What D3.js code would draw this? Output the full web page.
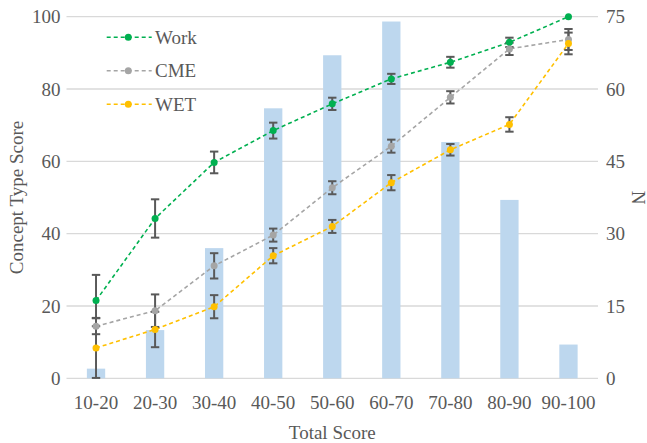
<!DOCTYPE html>
<html>
<head>
<meta charset="utf-8">
<script src="https://cdn.jsdelivr.net/npm/d3@7"></script>
<style>
  body { margin: 0; background: #fff; }
</style>
</head>
<body>
<svg width="647" height="443"></svg>
<script>
var categories = ["10-20", "20-30", "30-40", "40-50", "50-60", "60-70", "70-80", "80-90", "90-100"]
var nCounts = [2, 10, 27, 56, 67, 74, 49, 37, 7]

var workScore = [21.5, 44.2, 59.7, 68.5, 75.9, 82.8, 87.4, 92.9, 100]
var workErr = [7.1, 5.3, 3.0, 2.2, 1.7, 1.4, 1.5, 1.3, 0]
var cmeScore = [14.4, 18.7, 31.1, 39.6, 52.7, 64.2, 77.7, 91.1, 93.7]
var cmeErr = [2.2, 4.5, 3.5, 1.8, 1.8, 1.8, 1.7, 1.7, 2.9]
var wetScore = [8.4, 13.5, 19.8, 33.9, 42.0, 54.1, 63.2, 70.2, 92.6]
var wetErr = [8.3, 4.9, 3.2, 2.1, 1.8, 2.1, 1.6, 2.0, 3.0]

var leftTicks = [0, 20, 40, 60, 80, 100]
var rightTicks = [0, 15, 30, 45, 60, 75]

var series = [
  {name: "Work", values: workScore, err: workErr, color: "#00b050"},
  {name: "CME", values: cmeScore, err: cmeErr, color: "#a5a5a5"},
  {name: "WET", values: wetScore, err: wetErr, color: "#ffc000"}
]

var FONT = "'Liberation Serif', 'Times New Roman', serif"
var margins = {top: 16.7, left: 66.5, right: 49, bottom: 64.7}
var width = 647, height = 443

var svg = d3.select("svg")

var x = d3.scaleBand()
  .domain(categories)
  .range([margins.left, width - margins.right])

var yLeft = d3.scaleLinear().domain([0, 100]).range([height - margins.bottom, margins.top])
var yRight = d3.scaleLinear().domain([0, 75]).range([height - margins.bottom, margins.top])

var styleText = function(sel)
{
  sel.style("font-family", FONT)
    .style("font-size", "19px")
    .style("fill", "#595959")
}

// gridlines
svg.append("g")
  .selectAll("line")
  .data(leftTicks)
  .enter()
  .append("line")
  .attr("x1", margins.left)
  .attr("x2", width - margins.right)
  .attr("y1", function(d){ return yLeft(d) })
  .attr("y2", function(d){ return yLeft(d) })
  .style("stroke", "#d9d9d9")
  .style("stroke-width", 1.3)

// bars for N
var barW = x.bandwidth() * 0.31
svg.append("g")
  .selectAll("rect")
  .data(nCounts)
  .enter()
  .append("rect")
  .attr("x", function(d, i){ return x(categories[i]) + x.bandwidth()/2 - barW/2 })
  .attr("y", function(d){ return yRight(d) })
  .attr("width", barW)
  .attr("height", function(d){ return yRight(0) - yRight(d) })
  .style("fill", "#bdd7ee")

// left axis
var gl = svg.append("g")
  .attr("transform", "translate(" + margins.left + ",0)")
  .call(d3.axisLeft(yLeft).tickValues(leftTicks).tickSize(0).tickPadding(6))
gl.select(".domain").remove()
gl.selectAll("text").call(styleText).attr("dy", "0.33em")

// right axis
var gr = svg.append("g")
  .attr("transform", "translate(" + (width - margins.right) + ",0)")
  .call(d3.axisRight(yRight).tickValues(rightTicks).tickSize(0).tickPadding(8))
gr.select(".domain").remove()
gr.selectAll("text").call(styleText).attr("dy", "0.33em")

// bottom axis
var gb = svg.append("g")
  .attr("transform", "translate(0," + (height - margins.bottom) + ")")
  .call(d3.axisBottom(x).tickSize(0).tickPadding(17))
gb.select(".domain").remove()
gb.selectAll("text").call(styleText)

// axis titles
svg.append("text")
  .attr("transform", "translate(23," + ((margins.top + height - margins.bottom)/2) + ") rotate(-90)")
  .attr("text-anchor", "middle")
  .call(styleText)
  .text("Concept Type Score")

svg.append("text")
  .attr("transform", "translate(632," + ((margins.top + height - margins.bottom)/2) + ") rotate(90)")
  .attr("text-anchor", "middle")
  .call(styleText)
  .text("N")

svg.append("text")
  .attr("x", (margins.left + width - margins.right)/2)
  .attr("y", 439)
  .attr("text-anchor", "middle")
  .call(styleText)
  .text("Total Score")

var cx = function(d, i){ return x(categories[i]) + x.bandwidth()/2 }

// lines, error bars and dots
var line = d3.line()
  .x(function(d, i){ return cx(d, i) })
  .y(function(d){ return yLeft(d) })

series.forEach(function(s){
  svg.append("path")
    .datum(s.values)
    .attr("d", line)
    .style("fill", "none")
    .style("stroke", s.color)
    .style("stroke-width", 1.6)
    .style("stroke-dasharray", "4,3")
})

series.forEach(function(s){
  var g = svg.append("g")
  s.values.forEach(function(v, i){
    var e = s.err[i]
    if (e <= 0) return
    var px = cx(v, i)
    g.append("line")
      .attr("x1", px).attr("x2", px)
      .attr("y1", yLeft(v - e)).attr("y2", yLeft(v + e))
      .style("stroke", "#595959").style("stroke-width", 2)
    ;[v - e, v + e].forEach(function(t){
      g.append("line")
        .attr("x1", px - 4.2).attr("x2", px + 4.2)
        .attr("y1", yLeft(t)).attr("y2", yLeft(t))
        .style("stroke", "#595959").style("stroke-width", 2)
    })
  })
})

series.forEach(function(s){
  svg.append("g")
    .selectAll("circle")
    .data(s.values)
    .enter()
    .append("circle")
    .attr("cx", cx)
    .attr("cy", function(d){ return yLeft(d) })
    .attr("r", 3.5)
    .style("fill", s.color)
})

// legend
var legend = svg.append("g")
series.forEach(function(s, i){
  var ly = 37.3 + i * 33.5
  legend.append("line")
    .attr("x1", 106.7).attr("x2", 151.7)
    .attr("y1", ly).attr("y2", ly)
    .style("stroke", s.color)
    .style("stroke-width", 1.6)
    .style("stroke-dasharray", "4,3")
  legend.append("circle")
    .attr("cx", 128.3).attr("cy", ly).attr("r", 3.5)
    .style("fill", s.color)
  legend.append("text")
    .attr("x", 155).attr("y", ly)
    .attr("dy", "0.33em")
    .call(styleText)
    .text(s.name)
})
</script>
</body>
</html>
